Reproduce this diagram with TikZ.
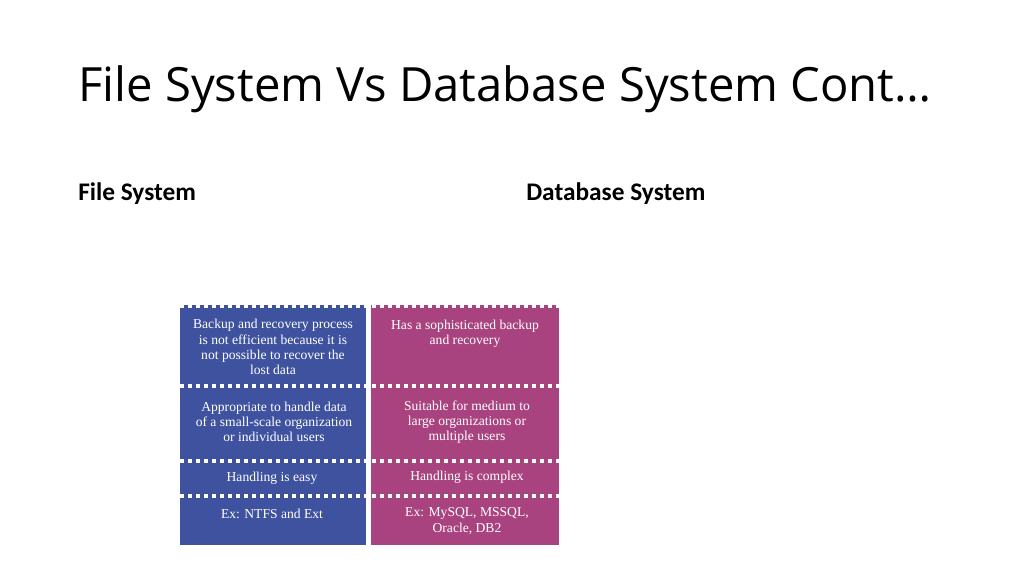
\documentclass[tikz,border=0pt]{standalone}
\usepackage{fontspec}
\setmainfont{Liberation Serif}
\newfontfamily\titlefont{Open Sans}
\newfontfamily\headfont{Carlito}
\definecolor{fsblue}{HTML}{3F529F}
\definecolor{dbpink}{HTML}{A9437F}
\tikzset{
  cell/.style={text=white, font=\fontsize{10.2pt}{11.4pt}\selectfont, align=center},
  sep/.style={white, line width=2.6pt, dash pattern=on 3.2pt off 2.8pt}
}
\begin{document}
\begin{tikzpicture}[x=0.75pt,y=-0.75pt]
\useasboundingbox (0,0) rectangle (1024,575);
\node[anchor=base west, inner sep=0pt, font=\titlefont\fontsize{35.4pt}{40pt}\selectfont] (title) at (78,101) {File System Vs Database System Cont…};
\node[anchor=base west, inner sep=0pt, font=\headfont\bfseries\fontsize{19pt}{22pt}\selectfont] (hfs) at (78,200) {File System};
\node[anchor=base west, inner sep=0pt, font=\headfont\bfseries\fontsize{19pt}{22pt}\selectfont] (hdb) at (526,200) {Database System};
% columns
\fill[fsblue] (180,305) rectangle (366,545);
\fill[dbpink] (371,305) rectangle (559,545);
% separators
\foreach \y in {306,386,461,496}
  \draw[sep] (180,\y) -- (559,\y);
% cells
\node[cell] (fs1) at (273,347) {Backup and recovery process\\is not efficient because it is\\not possible to recover the\\lost data};
\node[cell] (db1) at (465,334) {Has a sophisticated backup\\and recovery};
\node[cell] (fs2) at (274,422) {Appropriate to handle data\\of a small-scale organization\\or individual users};
\node[cell] (db2) at (467,422) {Suitable for medium to\\large organizations or\\multiple users};
\node[cell] (fs3) at (272,478) {Handling is easy};
\node[cell] (db3) at (467,477) {Handling is complex};
\node[cell] (fs4) at (272,514) {Ex: NTFS and Ext};
\node[cell] (db4) at (467,521) {Ex: MySQL, MSSQL,\\Oracle, DB2};
\end{tikzpicture}
\end{document}
